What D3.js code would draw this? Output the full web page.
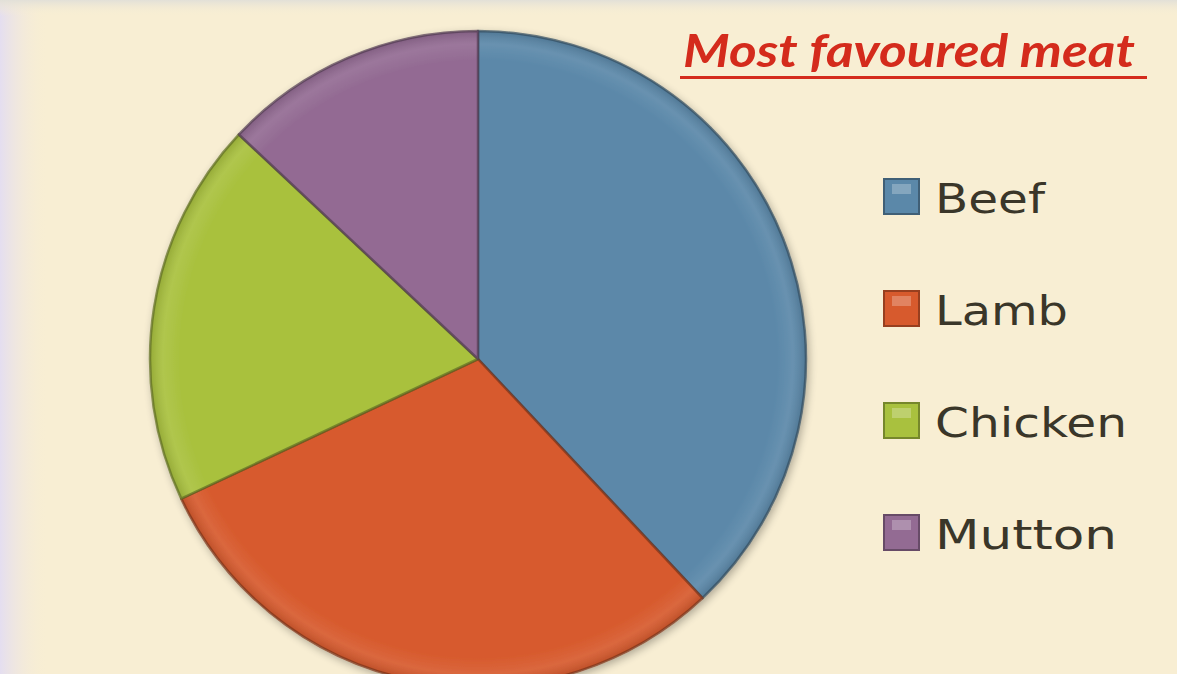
<!DOCTYPE html>
<html>
<head>
<meta charset="utf-8">
<script src="https://d3js.org/d3.v7.min.js"></script>
<style>
  body { margin: 0; background: #f8eed3; }
  svg { display: block; }
</style>
</head>
<body>
<svg width="1177" height="674"></svg>
<script>
var meats = ["Beef", "Lamb", "Chicken", "Mutton"],
    shares = [38, 30, 19, 13],
    colours = ["#5b88a9", "#d75a2d", "#a9c13e", "#936b93"];

var svg = d3.select("svg"),
    width = +svg.attr("width"),
    height = +svg.attr("height");

var defs = svg.append("defs");

// background: cream with lavender fade on the left and grey band at top
var bgLeft = defs.append("linearGradient").attr("id", "bgLeft")
    .attr("x1", 0).attr("x2", 1).attr("y1", 0).attr("y2", 0);
bgLeft.append("stop").attr("offset", "0%").attr("stop-color", "#e4def0");
bgLeft.append("stop").attr("offset", "100%").attr("stop-color", "#f8eed3").attr("stop-opacity", 0);

var bgTop = defs.append("linearGradient").attr("id", "bgTop")
    .attr("x1", 0).attr("x2", 0).attr("y1", 0).attr("y2", 1);
bgTop.append("stop").attr("offset", "0%").attr("stop-color", "#e2e0d8");
bgTop.append("stop").attr("offset", "100%").attr("stop-color", "#f8eed3").attr("stop-opacity", 0);

svg.append("rect").attr("width", width).attr("height", height).attr("fill", "#f8eed3");
svg.append("rect").attr("width", 48).attr("height", height).attr("fill", "url(#bgLeft)");
svg.append("rect").attr("width", width).attr("height", 16).attr("fill", "url(#bgTop)");

var cx = 478, cy = 359, radius = 328;

// bevel along the rim, shared by all slices (user space, centred on pie)
var bevel = defs.append("radialGradient").attr("id", "bevel")
    .attr("gradientUnits", "userSpaceOnUse")
    .attr("cx", 0).attr("cy", 0).attr("r", radius);
bevel.append("stop").attr("offset", "0%").attr("stop-color", "#fff").attr("stop-opacity", 0);
bevel.append("stop").attr("offset", "91%").attr("stop-color", "#fff").attr("stop-opacity", 0);
bevel.append("stop").attr("offset", "96%").attr("stop-color", "#fff").attr("stop-opacity", 0.08);
bevel.append("stop").attr("offset", "100%").attr("stop-color", "#000").attr("stop-opacity", 0.12);

var shadow = defs.append("filter").attr("id", "shadow")
    .attr("x", "-10%").attr("y", "-10%").attr("width", "120%").attr("height", "120%");
shadow.append("feGaussianBlur").attr("in", "SourceAlpha").attr("stdDeviation", 4).attr("result", "b");
shadow.append("feOffset").attr("in", "b").attr("dx", 2).attr("dy", 3).attr("result", "o");
shadow.append("feComponentTransfer").attr("in", "o").attr("result", "s")
  .append("feFuncA").attr("type", "linear").attr("slope", 0.3);
var merge = shadow.append("feMerge");
merge.append("feMergeNode").attr("in", "s");
merge.append("feMergeNode").attr("in", "SourceGraphic");

var color = d3.scaleOrdinal().domain(meats).range(colours);

var pie = d3.pie().sort(null).value(function(d, i) { return shares[i]; });
var arc = d3.arc().innerRadius(0).outerRadius(radius);
var arcs = pie(meats);

var g = svg.append("g")
    .attr("transform", "translate(" + cx + "," + cy + ")");

var slices = g.append("g").attr("filter", "url(#shadow)");

arcs.forEach(function(a) {
  var slice = slices.append("g");
  slice.append("path")
      .attr("d", arc(a))
      .attr("fill", color(a.data));
  slice.append("path")
      .attr("d", arc(a))
      .attr("fill", "url(#bevel)");
  slice.append("path")
      .attr("d", arc(a))
      .attr("fill", "none")
      .attr("stroke", d3.color(color(a.data)).darker(1.6))
      .attr("stroke-opacity", 0.7)
      .attr("stroke-width", 2.5)
      .attr("stroke-linejoin", "round");
});

// title
svg.append("text")
    .attr("x", 683)
    .attr("y", 67)
    .attr("font-family", "Lato, 'Open Sans', sans-serif")
    .attr("font-size", "46px")
    .attr("font-weight", "bold")
    .attr("font-style", "italic")
    .attr("fill", "#d42b1c")
    .attr("textLength", 452)
    .attr("lengthAdjust", "spacingAndGlyphs")
    .text("Most favoured meat");

svg.append("rect")
    .attr("x", 680).attr("y", 76)
    .attr("width", 467).attr("height", 3)
    .attr("fill", "#d42b1c");

// legend
var legendY = d3.scalePoint().domain(meats).range([196, 532]);
var legendWidths = [110, 133, 192, 182];

var legend = svg.append("g").selectAll("g")
    .data(meats)
    .enter().append("g")
    .attr("transform", function(d) { return "translate(884," + legendY(d) + ")"; });

legend.append("rect")
    .attr("x", 0).attr("y", -17)
    .attr("width", 35).attr("height", 35)
    .attr("fill", function(d) { return color(d); })
    .attr("stroke", function(d) { return d3.color(color(d)).darker(1); })
    .attr("stroke-width", 2);

legend.append("rect")
    .attr("x", 8).attr("y", -12)
    .attr("width", 19).attr("height", 10)
    .attr("fill", "#fff")
    .attr("opacity", 0.25);

legend.append("text")
    .attr("x", 51)
    .attr("y", 17)
    .attr("font-family", "'DejaVu Sans', Verdana, sans-serif")
    .attr("font-size", "40px")
    .attr("fill", "#3a3629")
    .attr("textLength", function(d, i) { return legendWidths[i]; })
    .attr("lengthAdjust", "spacingAndGlyphs")
    .text(function(d) { return d; });
</script>
</body>
</html>
